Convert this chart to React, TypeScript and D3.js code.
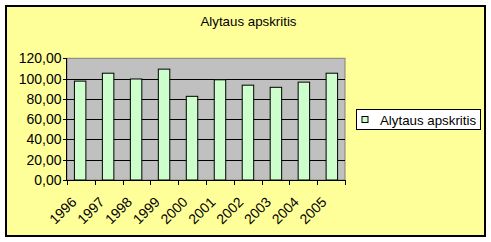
import React from "react";
import * as d3 from "d3";

const categories = ["1996", "1997", "1998", "1999", "2000", "2001", "2002", "2003", "2004", "2005"];
const values = [97.5, 105.3, 99.6, 109.3, 82.5, 98.8, 93.5, 91.4, 96.5, 105.3];
const yTicks = [0, 20, 40, 60, 80, 100, 120];
const title = "Alytaus apskritis";
const seriesName = "Alytaus apskritis";

export default function App() {
  const W = 491, H = 242;
  const left = 67, right = 345, top = 58.3, bottom = 180;
  const x = d3.scaleBand<string>().domain(categories).range([left, right]).paddingInner(0.59).paddingOuter(0.265);
  const xc = d3.scaleBand<string>().domain(categories).range([left, right]);
  const y = d3.scaleLinear().domain([0, 120]).range([bottom, top]);
  const fmt = (v: number) => d3.format(".2f")(v).replace(".", ",");
  const font = "'Liberation Sans', Arial, sans-serif";
  return (
    <svg width={W} height={H} style={{ position: "absolute", left: 0, top: 0 }} fontFamily={font}>
      <rect x={0} y={0} width={W} height={H} fill="#ffffff" />
      <rect x={6} y={6} width={479} height={230} fill="#ffff99" stroke="#000" strokeWidth={2} />
      <text x={248.5} y={25.5} textAnchor="middle" fontSize={13.3} fill="#000">{title}</text>
      <rect x={left} y={top} width={right - left} height={bottom - top} fill="#c0c0c0" stroke="#808080" strokeWidth={1} />
      {yTicks.map((t) => (
        <g key={t}>
          {t > 0 && t < 120 && (
            <line x1={left} x2={right} y1={Math.round(y(t)) + 0.5} y2={Math.round(y(t)) + 0.5} stroke="#000" strokeWidth={1} />
          )}
          <line x1={left - 4} x2={left} y1={Math.round(y(t)) + 0.5} y2={Math.round(y(t)) + 0.5} stroke="#000" />
          <text x={61.5} y={y(t) + 5} textAnchor="end" fontSize={14} fill="#000">{fmt(t)}</text>
        </g>
      ))}
      {categories.map((c, i) => (
        <rect key={c} x={x(c)!} y={y(values[i])} width={x.bandwidth()} height={bottom - y(values[i])} fill="#ccffcc" stroke="#000" strokeWidth={1} />
      ))}
      <line x1={left - 0.5} x2={left - 0.5} y1={top} y2={bottom} stroke="#000" />
      <line x1={left} x2={right} y1={bottom + 0.5} y2={bottom + 0.5} stroke="#000" />
      {categories.concat(["end"]).map((c, i) => {
        const xx = Math.round(left + i * xc.step()) + 0.5;
        return <line key={"t" + i} x1={xx} x2={xx} y1={bottom} y2={bottom + 5} stroke="#000" />;
      })}
      {categories.map((c) => {
        const cx = xc(c)! + xc.bandwidth() / 2 - 3.5;
        const cy = 203;
        return (
          <text key={"l" + c} x={cx} y={cy} textAnchor="end" fontSize={14} fill="#000" transform={`rotate(-45 ${cx} ${cy})`}>{c}</text>
        );
      })}
      <rect x={356.5} y={109.5} width={124} height={20} fill="#fff" stroke="#000" strokeWidth={1} />
      <rect x={362} y={116.5} width={6} height={6} fill="#ccffcc" stroke="#000" strokeWidth={1} />
      <text x={380} y={124.5} fontSize={13.3} fill="#000">{seriesName}</text>
    </svg>
  );
}
